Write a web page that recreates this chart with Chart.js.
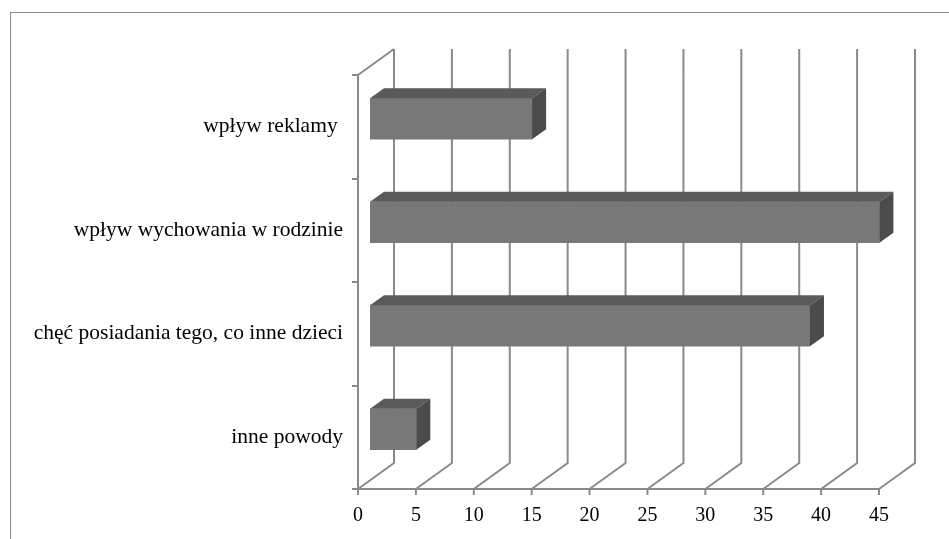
<!DOCTYPE html>
<html>
<head>
<meta charset="utf-8">
<script src="https://cdn.jsdelivr.net/npm/chart.js@4/dist/chart.umd.min.js"></script>
<style>
body{margin:0;background:#fff;overflow:hidden}
#wrap{position:relative;width:949px;height:539px}
</style>
</head>
<body>
<div id="wrap"><canvas id="c" width="949" height="539"></canvas></div>
<script>
// data (percent)
const categories = ['wpływ reklamy ', 'wpływ wychowania w rodzinie', 'chęć posiadania tego, co inne dzieci', 'inne powody']
const values = [14, 44, 38, 4]
const xMin = 0, xMax = 45, xStep = 5

const FONT = '"Liberation Serif", "Times New Roman", serif'
const GRID = '#8a8a8a'
const wall = {dx:36, dy:-26}   // back wall offset
const front = {dx:12, dy:-8}   // front face of the bars
const depth = {dx:14, dy:-10}  // bar depth

// 3d walls, floor and bar faces
const box3d = {
	id:'box3d',
	beforeDraw(c) {
		const g = c.ctx
		g.save()
		g.strokeStyle = '#8c8c8c'
		g.lineWidth = 1
		g.strokeRect(10.5, 12.5, 1200, 1200)
		g.restore()
	},
	beforeDatasetsDraw(c) {
		const g = c.ctx, a = c.chartArea, x = c.scales.x
		g.save()
		g.strokeStyle = GRID
		g.lineWidth = 2
		g.lineCap = 'butt'
		g.beginPath()
		// left wall
		g.moveTo(a.left, a.bottom); g.lineTo(a.left, a.top)
		g.lineTo(a.left + wall.dx, a.top + wall.dy)
		// floor front edge
		g.moveTo(a.left, a.bottom); g.lineTo(a.right, a.bottom)
		// gridlines on back wall and floor
		for (let v = xMin; v <= xMax; v += xStep) {
			const p = x.getPixelForValue(v)
			g.moveTo(p + wall.dx, a.top + wall.dy)
			g.lineTo(p + wall.dx, a.bottom + wall.dy)
			g.lineTo(p, a.bottom)
			g.moveTo(p, a.bottom); g.lineTo(p, a.bottom + 6)
		}
		// category ticks
		const n = categories.length, h = (a.bottom - a.top) / n
		for (let i = 0; i <= n; i++) {
			const y = Math.round(a.top + i * h)
			g.moveTo(a.left, y); g.lineTo(a.left - 6, y)
		}
		g.stroke()
		g.restore()
		// shift the bars into the middle of the depth
		g.save()
		g.translate(front.dx, front.dy)
	},
	afterDatasetsDraw(c) {
		const g = c.ctx
		g.restore()
		c.getDatasetMeta(0).data.forEach(b => {
			const p = b.getProps(['x', 'y', 'base', 'height'], true)
			const l = p.base + front.dx, r = p.x + front.dx
			const t = p.y - p.height / 2 + front.dy, bt = p.y + p.height / 2 + front.dy
			g.fillStyle = '#5a5a5a'
			g.beginPath()
			g.moveTo(l, t); g.lineTo(r, t); g.lineTo(r + depth.dx, t + depth.dy); g.lineTo(l + depth.dx, t + depth.dy)
			g.closePath(); g.fill()
			g.fillStyle = '#4b4b4b'
			g.beginPath()
			g.moveTo(r, t); g.lineTo(r + depth.dx, t + depth.dy); g.lineTo(r + depth.dx, bt + depth.dy); g.lineTo(r, bt)
			g.closePath(); g.fill()
		})
	}
}

addEventListener('load', () => {
	new Chart(document.getElementById('c'), {
		type:'bar',
		data:{
			labels:categories,
			datasets:[{
				data:values,
				backgroundColor:'#787878',
				borderWidth:0,
				barThickness:41
			}]
		},
		options:{
			indexAxis:'y',
			responsive:false,
			animation:false,
			devicePixelRatio:1,
			layout:{padding:{left:0, top:75, right:70, bottom:0}},
			plugins:{legend:{display:false}, tooltip:{enabled:false}},
			scales:{
				x:{
					min:xMin, max:xMax,
					ticks:{stepSize:xStep, color:'#000', padding:15, font:{family:FONT, size:20}},
					grid:{display:false, drawTicks:false},
					border:{display:false},
					afterFit:s => { s.height = 50 }
				},
				y:{
					ticks:{color:'#000', padding:15, font:{family:FONT, size:21.5}},
					grid:{display:false, drawTicks:false},
					border:{display:false},
					afterFit:s => { s.width = 358 }
				}
			}
		},
		plugins:[box3d]
	})
})
</script>
</body>
</html>
